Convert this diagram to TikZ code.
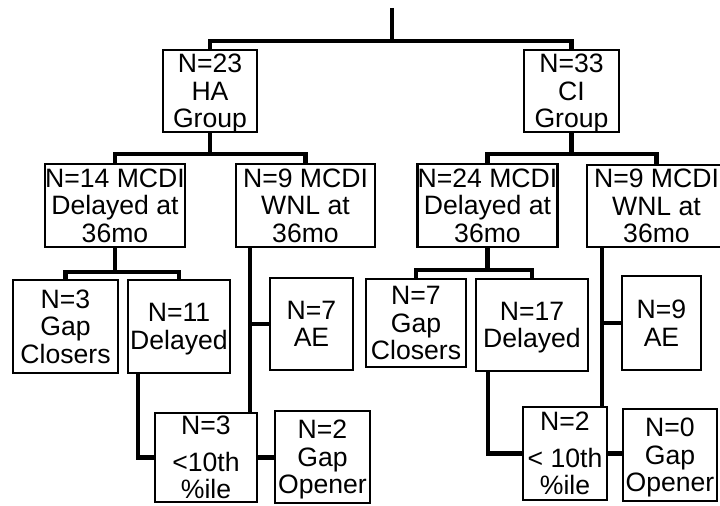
\documentclass[tikz,border=0pt]{standalone}
\usepackage{fontspec}
\setmainfont{Liberation Sans}
\usepackage{tikz}

\begin{document}
\begin{tikzpicture}[x=0.5pt,y=-0.5pt]
\tikzstyle{group}=[draw=black,line width=1.3pt,align=center,inner sep=0pt,text depth=-5.5pt,font=\fontsize{13.3}{13.75}\selectfont]
\tikzstyle{branch}=[line width=2.2pt]
\newcommand{\groupbox}[5]{%
\node[group,minimum width=#3*0.5pt,minimum height=#4*0.5pt] (#1) at (#2) {#5};
}
\useasboundingbox (0,0) rectangle (720,506);
% group boxes
\groupbox{ha}{210,91}{94}{82}{N=23\\HA\\Group}
\groupbox{ci}{571.5,91}{95}{82}{N=33\\CI\\Group}
\groupbox{hadel}{115,205.5}{138}{83}{N=14 MCDI\\Delayed at\\36mo}
\groupbox{hawnl}{305.5,205.5}{139}{83}{N=9 MCDI\\WNL at\\36mo}
\groupbox{cidel}{487.5,205.5}{139}{83}{N=24 MCDI\\Delayed at\\36mo}
\groupbox{ciwnl}{656.5,206}{139}{82}{N=9 MCDI\\WNL at\\36mo}
\groupbox{hagap}{65.5,326.5}{105}{93}{N=3\\Gap\\Closers}
\groupbox{hadly}{179,326.5}{102}{93}{N=11\\Delayed}
\groupbox{haae}{311.5,324}{83}{92}{N=7\\AE}
\groupbox{hapct}{206,457.5}{102}{89}{N=3\\[4.5pt]<10th\\\%ile}
\groupbox{haopen}{322.5,457}{95}{92}{N=2\\Gap\\Opener}
\groupbox{cigap}{416,323}{100}{88}{N=7\\Gap\\Closers}
\groupbox{cidly}{532,325}{112}{92}{N=17\\Delayed}
\groupbox{ciae}{661.5,323}{79}{94}{N=9\\AE}
\groupbox{cipct}{565,453.5}{84}{93}{N=2\\[4.5pt]< 10th\\\%ile}
\groupbox{ciopen}{670,455}{94}{92}{N=0\\Gap\\Opener}
% junctions
\coordinate (root) at (392,8);
\coordinate (rootj) at (392,41);
\coordinate (haj) at (210,154);
\coordinate (cij) at (571.5,154);
\coordinate (hadelj) at (115,272);
\coordinate (cidelj) at (487.5,270);
\coordinate (hawnlx) at (250,0);
\coordinate (ciwnlx) at (602,0);
\coordinate (hadlyx) at (138,0);
\coordinate (cidlyx) at (488,0);
% tree
\draw[branch] (root) -- (rootj);
\draw[branch] (ha.north) |- (rootj) -| (ci.north);
\draw[branch] (ha.south) -- (haj);
\draw[branch] (hadel.north) |- (haj) -| (hawnl.north);
\draw[branch] (ci.south) -- (cij);
\draw[branch] (cidel.north) |- (cij) -| (ciwnl.north);
\draw[branch] (hadel.south) -- (hadelj);
\draw[branch] (hagap.north) |- (hadelj) -| (hadly.north);
\draw[branch] (cidel.south) -- (cidelj);
\draw[branch] (cigap.north) |- (cidelj) -| (cidly.north);
\draw[branch] (hawnl.south -| hawnlx) -- (hapct.north -| hawnlx);
\draw[branch] (haae.west) -- (haae.west -| hawnlx);
\draw[branch] (ciwnl.south -| ciwnlx) -- (cipct.north -| ciwnlx);
\draw[branch] (ciae.west) -- (ciae.west -| ciwnlx);
\draw[branch] (hadly.south -| hadlyx) |- (hapct.west);
\draw[branch] (cidly.south -| cidlyx) |- (cipct.west);
\draw[branch] (hapct.east) -- (hapct.east -| haopen.west);
\draw[branch] (cipct.east) -- (cipct.east -| ciopen.west);
\end{tikzpicture}
\end{document}
